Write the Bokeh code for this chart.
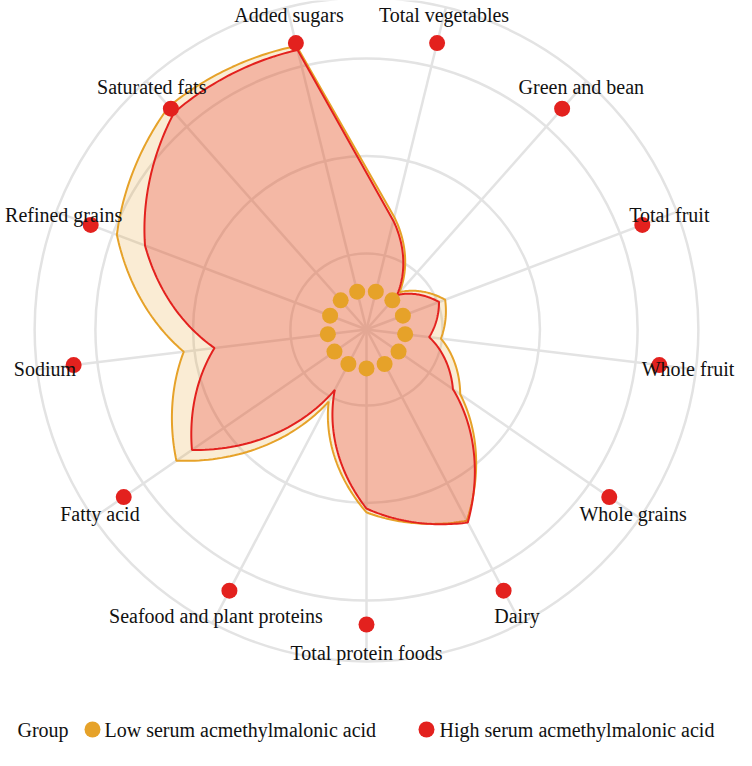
import numpy as np
from bokeh.plotting import figure
from bokeh.models import Range1d
from bokeh.core.properties import value
from bokeh.embed import file_html
from bokeh.resources import INLINE

# ---------------- data ----------------
categories = ["Total vegetables", "Green and bean", "Total fruit", "Whole fruit",
              "Whole grains", "Dairy", "Total protein foods",
              "Seafood and plant proteins", "Fatty acid", "Sodium",
              "Refined grains", "Saturated fats", "Added sugars"]

group_names = ["Low serum acmethylmalonic acid", "High serum acmethylmalonic acid"]

low_values = [3.93, 1.69, 2.85, 2.54, 3.86, 7.32, 6.20, 2.76, 7.83, 6.24, 9.05, 10.10, 9.90]
high_values = [3.80, 1.56, 2.63, 2.14, 3.56, 7.39, 6.07, 2.31, 7.19, 5.19, 8.03, 9.83, 9.76]

low_points = [1.32, 1.32, 1.32, 1.32, 1.32, 1.32, 1.32, 1.32, 1.32, 1.32, 1.32, 1.32, 1.32]
high_points = [10.0, 10.0, 10.0, 10.0, 10.0, 10.0, 10.0, 10.0, 10.0, 10.0, 10.0, 10.0, 10.0]

grid_levels = [2.58, 5.88, 9.19, 11.25]

# ---------------- styling / layout ----------------
ORANGE = "#E6A229"
RED = "#E3211E"
GRID = "#E3E3E3"
FONT = "Liberation Serif"

S = 29.5            # screen px per radial unit
CX, CY = 374, 337   # chart centre in page pixels
W, H = 736, 750

def page(xp, yp):
    return (xp - CX) / S, (CY - yp) / S

n = len(categories)
theta = [(i + 0.5) * 2 * np.pi / n for i in range(n)]

def polar(r, t):
    return r * np.sin(t), r * np.cos(t)

def spiral_path(vals):
    xs, ys = [], []
    for i in range(n - 1):
        t = np.linspace(0, 1, 40, endpoint=False)
        th = theta[i] + t * (theta[i + 1] - theta[i])
        rr = vals[i] + t * (vals[i + 1] - vals[i])
        x, y = polar(rr, th)
        xs.extend(x.tolist()); ys.extend(y.tolist())
    x, y = polar(vals[-1], theta[-1])
    xs.append(float(x)); ys.append(float(y))
    return xs, ys

x0, y1 = page(8, 8)
x1, y0 = page(8 + W, 8 + H)

p = figure(width=W, height=H, output_backend="svg", toolbar_location=None,
           x_range=Range1d(x0, x1), y_range=Range1d(y0, y1),
           min_border=0, x_axis_location=None, y_axis_location=None)
p.grid.visible = False
p.outline_line_color = None
p.background_fill_color = "white"

# grid
p.circle(x=[0] * len(grid_levels), y=[0] * len(grid_levels), radius=grid_levels,
         fill_color=None, line_color=GRID, line_width=2.5)
outer = grid_levels[-1]
sx = [polar(outer, t)[0] for t in theta]
sy = [polar(outer, t)[1] for t in theta]
p.segment(x0=[0] * n, y0=[0] * n, x1=sx, y1=sy, line_color=GRID, line_width=2.5)

# polygons
lx, ly = spiral_path(low_values)
p.patch(lx, ly, fill_color=ORANGE, fill_alpha=0.2, line_color=ORANGE, line_width=2)
hx, hy = spiral_path(high_values)
p.patch(hx, hy, fill_color=RED, fill_alpha=0.26, line_color=RED, line_width=2)

# points
px_l = [polar(r, t)[0] for r, t in zip(low_points, theta)]
py_l = [polar(r, t)[1] for r, t in zip(low_points, theta)]
p.scatter(px_l, py_l, size=16, fill_color=ORANGE, line_color=None)
px_h = [polar(r, t)[0] for r, t in zip(high_points, theta)]
py_h = [polar(r, t)[1] for r, t in zip(high_points, theta)]
p.scatter(px_h, py_h, size=16, fill_color=RED, line_color=None)

# category labels
label_r = 10.98
tx = [polar(label_r, t)[0] for t in theta]
ty = [polar(label_r, t)[1] for t in theta]
p.text(tx, ty, text=categories, text_align="center", text_baseline="middle",
       text_font=value(FONT), text_font_size="20px", text_color="#111111")

# legend (manual, ggplot-like bottom legend)
gx, gy = page(25, 737)
p.text([gx], [gy], text=["Group"], text_align="left", text_baseline="middle",
       text_font=value(FONT), text_font_size="20px", text_color="#111111")
k1x, k1y = page(100, 737)
p.scatter([k1x], [k1y], size=16, fill_color=ORANGE, line_color=None)
t1x, t1y = page(112, 737)
p.text([t1x], [t1y], text=[group_names[0]], text_align="left", text_baseline="middle",
       text_font=value(FONT), text_font_size="20px", text_color="#111111")
k2x, k2y = page(434, 737)
p.scatter([k2x], [k2y], size=16, fill_color=RED, line_color=None)
t2x, t2y = page(447, 737)
p.text([t2x], [t2y], text=[group_names[1]], text_align="left", text_baseline="middle",
       text_font=value(FONT), text_font_size="20px", text_color="#111111")

open("out.html", "w").write(file_html(p, INLINE))
